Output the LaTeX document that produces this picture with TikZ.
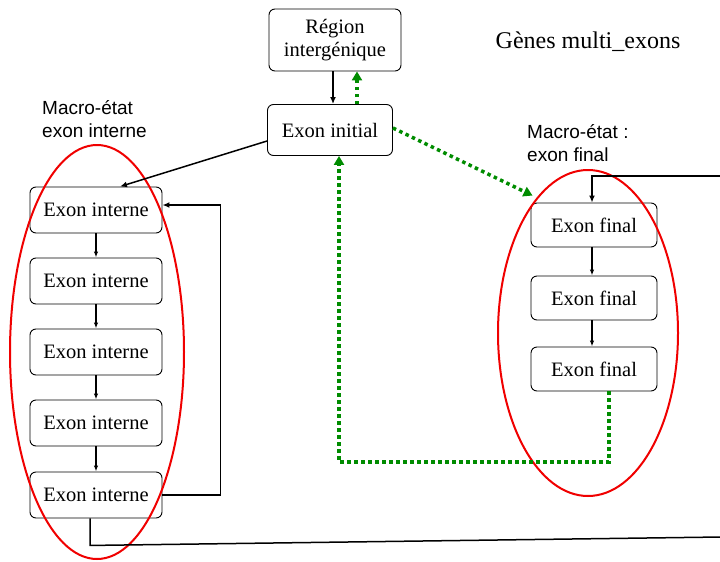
\documentclass[tikz,border=0pt]{standalone}
\usepackage{fontspec}
\setmainfont{Liberation Serif}
\setsansfont{Liberation Sans}
\definecolor{vert}{RGB}{0,140,0}
\definecolor{rouge}{RGB}{240,0,0}
\usetikzlibrary{arrows.meta,positioning}

\begin{document}
\begin{tikzpicture}[x=1pt,y=-1pt]
	\tikzset{
		etat/.style={
				draw,
				line width=.9pt,
				rounded corners=6pt,
				inner sep=0pt,
				align=center,
				font=\fontsize{20.5}{23}\selectfont
			},
		macro/.style={
				inner sep=0pt,
				anchor=west,
				align=left,
				font=\sffamily\fontsize{19}{23}\selectfont
			},
		trans/.style={line width=1.5pt, -{Latex[length=7pt,width=6pt]}},
		suite/.style={line width=1.3pt, -{Latex[length=6pt,width=4.5pt]}},
		retour/.style={
				vert,
				line width=3.5pt,
				dash pattern=on 3.5pt off 3.5pt,
				-{Triangle[length=9pt,width=10pt]}
			},
		macroetat/.style={rouge, line width=2pt}
	}
	\useasboundingbox (0,0) rectangle (720,562);

	% etats
	\node[etat, minimum width=132pt, minimum height=62pt] (reg) at (335,40) {Région\\intergénique};
	\node[etat, minimum width=125pt, minimum height=51pt] (init) at (330,130) {Exon initial};
	\foreach \i/\y in {1/210,2/281,3/352,4/423,5/495}
		\node[etat, minimum width=132pt, minimum height=46pt] (int\i) at (96,\y) {Exon interne};
	\foreach \i/\y in {1/225,2/298,3/369}
		\node[etat, minimum width=126pt, minimum height=44pt] (fin\i) at (594,\y) {Exon final};

	% textes
	\node[font=\fontsize{24}{28}\selectfont] (titre) at (588,42) {Gènes multi\_exons};
	\node[macro] (mint) at (42,119) {Macro-état\\exon interne};
	\node[macro] (mfin) at (527,143) {Macro-état :\\exon final};

	% macro-etats
	\draw[macroetat] (97,352) ellipse [x radius=87pt, y radius=207pt];
	\draw[macroetat] (588,333) ellipse [x radius=90pt, y radius=163pt];

	% transitions
	\draw[trans] ([xshift=-2pt]reg.south) -- ([xshift=-2pt]reg.south |- init.north);
	\draw[trans] ([yshift=-11pt]init.west) -- ([xshift=24pt]int1.north);
	\foreach \a/\b in {1/2,2/3,3/4,4/5}
		\draw[suite] (int\a.south) -- (int\b.north);
	\foreach \a/\b in {1/2,2/3}
		\draw[suite] ([xshift=-2pt]fin\a.south) -- ([xshift=-2pt]fin\b.north);
	\draw[trans] (int5.east) -- ++(58,0) |- ([yshift=5pt]int1.east);

	\coordinate (entree) at (721,176);
	\coordinate (sortie) at (721,537);
	\draw[trans] (entree) -| ([xshift=-2pt]fin1.north);
	\draw[line width=1.5pt] ([xshift=-6pt]int5.south) -- ++(0,27) -- (sortie);

	% retours en pointilles
	\coordinate (boucle) at (339,462);
	\draw[retour] ([xshift=22pt]reg.south |- init.north) -- ([xshift=22pt]reg.south);
	\draw[retour] ([yshift=2pt]init.east) -- ([shift={(2pt,7pt)}]fin1.north west);
	\draw[retour] ([xshift=15pt]fin3.south) |- (boucle) -- ([xshift=9pt]init.south);
\end{tikzpicture}
\end{document}
